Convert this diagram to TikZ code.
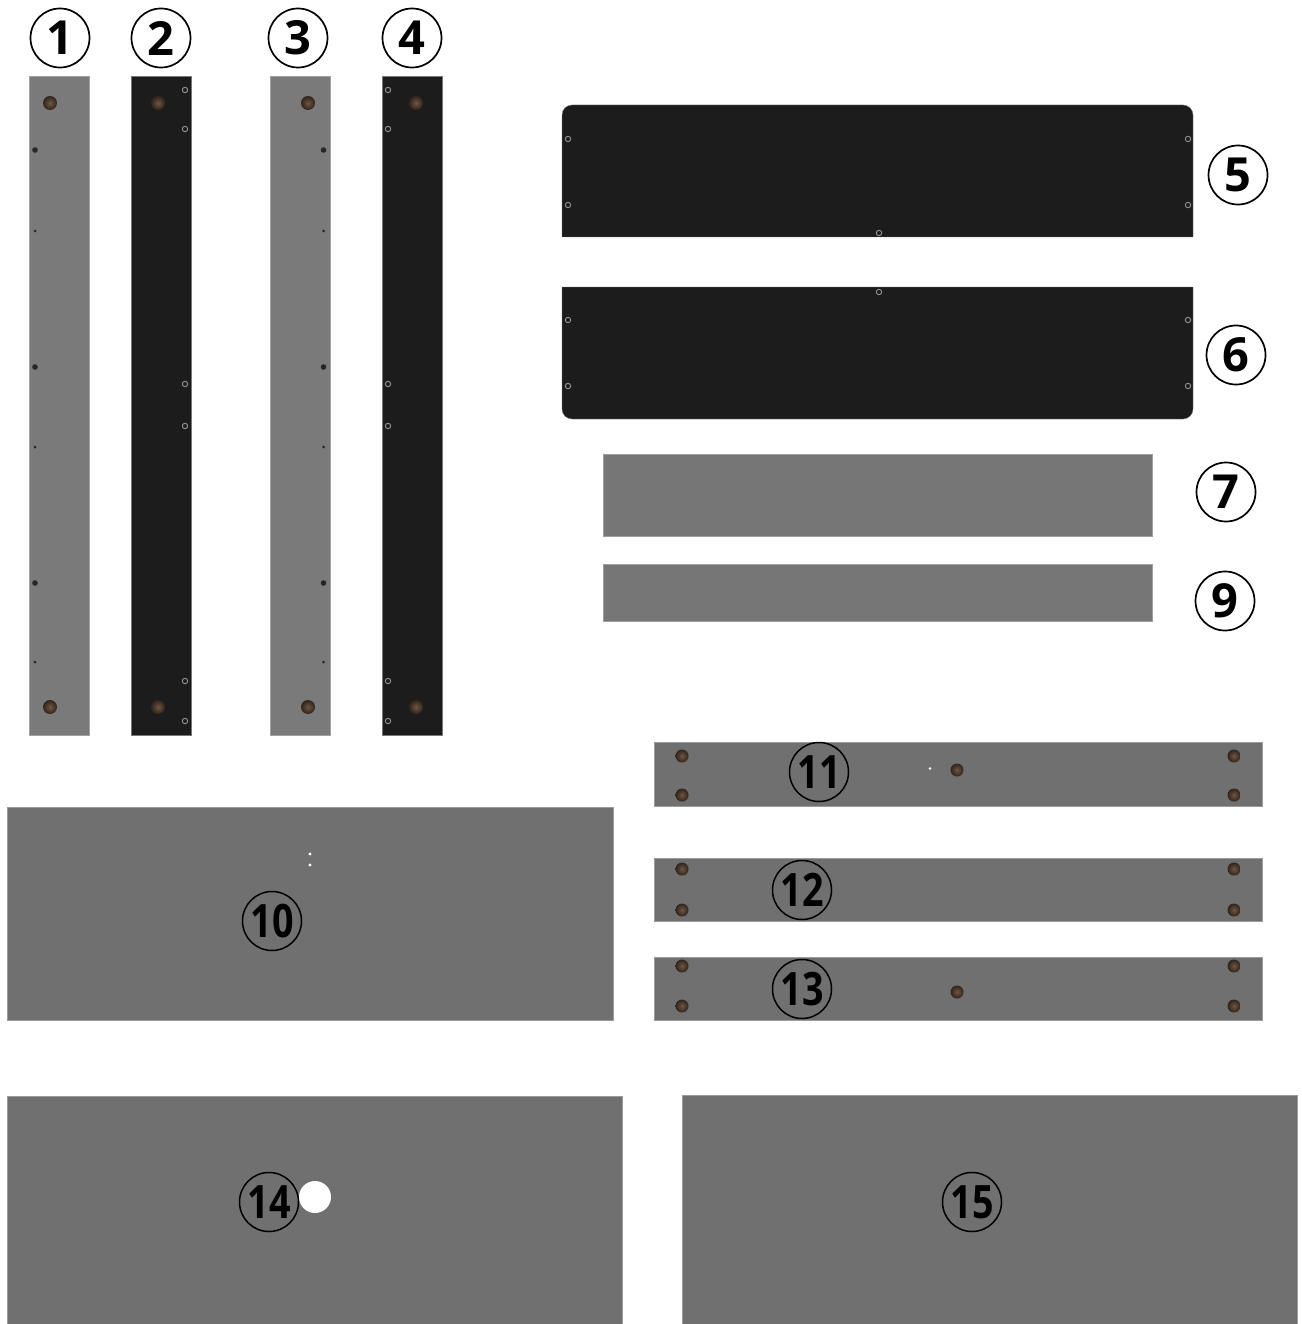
\documentclass[tikz,border=0pt]{standalone}
\usepackage{fontspec}
\setmainfont{Open Sans}
\usepackage{xcolor}
\usetikzlibrary{positioning}
\definecolor{boardgray}{RGB}{112,112,112}
\definecolor{stripgray}{RGB}{118,118,118}
\definecolor{postgray}{RGB}{122,122,122}
\definecolor{boardblack}{RGB}{28,28,28}
\definecolor{pegbrown}{RGB}{48,36,28}
\definecolor{peglight}{RGB}{112,86,64}
\tikzset{
  grayboard/.style={fill=boardgray,draw=boardgray!70!white,line width=0.3pt},
  stripboard/.style={fill=stripgray,draw=stripgray!70!white,line width=0.3pt},
  postboard/.style={fill=postgray,draw=postgray!70!white,line width=0.3pt},
  blackboard/.style={fill=boardblack,draw=boardblack!60!white,line width=0.3pt},
  peg/.style={shade,inner color=peglight,outer color=pegbrown},
  ring/.style={draw=white!55!black,line width=1pt},
  hole/.style={fill=black!85},
  partlabel/.style={circle,draw=black,line width=1.7pt,minimum size=59pt,
    inner sep=0pt,font=\fontsize{47}{47}\selectfont\bfseries},
  numlabel/.style={partlabel,line width=1.5pt,font=\fontsize{46}{46}\selectfont\bfseries}
}
\newcommand{\narrowdigits}[1]{\scalebox{0.82}[1]{#1}}

\begin{document}
\begin{tikzpicture}[x=1pt,y=-1pt]
  \useasboundingbox (0,0) rectangle (1301,1324);
  \fill[white] (0,0) rectangle (1301,1324);

  % Upright boards
  \path[postboard] (29,76) rectangle (89,735);
  \path[blackboard] (131,76) rectangle (191,735);
  \path[postboard] (270,76) rectangle (330,735);
  \path[blackboard] (382,76) rectangle (442,735);

  \foreach \x in {50,158,308,416}
    \foreach \y in {103,707}
      \path[peg] (\x,\y) circle (7);

  \foreach \x in {35,323.5} {
    \foreach \y in {150,367,583}
      \path[hole] (\x,\y) circle (2.8);
    \foreach \y in {231,447,662}
      \path[hole] (\x,\y) circle (1.5);
  }
  \foreach \x in {185,388}
    \foreach \y in {90,129,384,426,681,721}
      \path[ring] (\x,\y) circle (2.7);

  % Wide black boards
  \path[blackboard] (562,237) [rounded corners=10pt] -- (562,105) -- (1193,105)
    [sharp corners] -- (1193,237) -- cycle;
  \path[blackboard] (562,287) [rounded corners=10pt] -- (562,419) -- (1193,419)
    [sharp corners] -- (1193,287) -- cycle;
  \foreach \x/\y in {568/139,568/205,1188/139,1188/205,879/233,
                     568/320,568/386,1188/320,1188/386,879/292}
    \path[ring] (\x,\y) circle (2.7);

  % Strips
  \path[stripboard] (603,454) rectangle (1152,536);
  \path[stripboard] (603,564) rectangle (1152,621);

  % Rails
  \path[grayboard] (654,742) rectangle (1262,806);
  \path[grayboard] (654,858) rectangle (1262,921);
  \path[grayboard] (654,957) rectangle (1262,1020);
  \foreach \x in {682,1234}
    \foreach \y in {756,795,869,910,966,1006}
      \path[peg] (\x,\y) circle (6.5);
  \foreach \y in {770,992}
    \path[peg] (957,\y) circle (6.5);
  \fill[white] (930,768.5) circle (1.4);

  % Large panels
  \path[grayboard] (7,807) rectangle (613,1020);
  \path[grayboard] (7,1096) rectangle (622,1324);
  \path[grayboard] (682,1095) rectangle (1297,1324);
  \foreach \y in {854,865}
    \fill[white] (310,\y) circle (1.7);
  \fill[white] (315,1197) circle (16);

  % Part numbers
  \foreach \n/\x/\y in {1/60/38,2/161/38,3/298/38,4/412/38,5/1238/175,
                        6/1236/355,7/1226/492,9/1225/601}
    \node[partlabel] (part\n) at (\x,\y) {\n};
  \foreach \n/\x/\y in {10/272/921,11/819/772,12/802/890,13/802/989,
                        14/269/1202,15/972/1202}
    \node[numlabel] (part\n) at (\x,\y) {\narrowdigits{\n}};
\end{tikzpicture}
\end{document}
